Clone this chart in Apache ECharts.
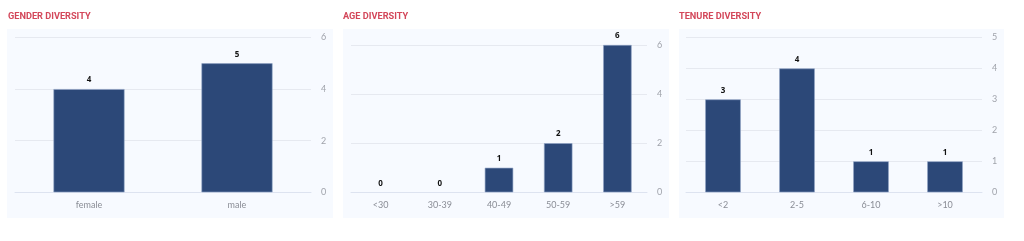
<!DOCTYPE html>
<html><head><meta charset="utf-8">
<script src="https://cdn.jsdelivr.net/npm/echarts@6/dist/echarts.min.js"></script>
<style>html,body{margin:0;padding:0;background:#fff}#c{width:1024px;height:241px}</style>
</head><body><div id="c"></div>
<script>
const titles = ['GENDER DIVERSITY', 'AGE DIVERSITY', 'TENURE DIVERSITY'];
const genderCats = ['female', 'male'];
const genderVals = [4, 5];
const ageCats = ['<30', '30-39', '40-49', '50-59', '>59'];
const ageVals = [0, 0, 1, 2, 6];
const tenureCats = ['<2', '2-5', '6-10', '>10'];
const tenureVals = [3, 4, 1, 1];
const yMax = [6, 6, 5];
const yInterval = [2, 2, 1];

const FONT = 'Lato, "Noto Sans", sans-serif';
const TFONT = 'Roboto, "Noto Sans", sans-serif';
const chart = echarts.init(document.getElementById('c'), null, {renderer: 'canvas'});
const cats = [genderCats, ageCats, tenureCats];
const vals = [genderVals, ageVals, tenureVals];
const grids = [
  {left: 15, width: 296, top: 37.5, bottom: 48.7},
  {left: 351, width: 296, top: 45, bottom: 48.7},
  {left: 686, width: 296, top: 37.5, bottom: 48.7}
];
const boxes = [[7, 333], [343, 669], [679, 1004]];
const option = {
  animation: false,
  backgroundColor: '#ffffff',
  graphic: boxes.map(b => ({type: 'rect', z: -10, shape: {x: b[0], y: 29, width: b[1] - b[0], height: 189}, style: {fill: '#f7faff'}})),
  title: titles.map((t, i) => ({text: t, left: [8, 343, 679][i], top: 12, padding: 0, textStyle: {color: '#d3475a', fontSize: 9.2, fontWeight: 'bold', fontFamily: TFONT}})),
  grid: grids.map(g => Object.assign({containLabel: false}, g)),
  xAxis: cats.map((c, i) => ({
    type: 'category', gridIndex: i, data: c,
    axisLine: {show: true, lineStyle: {color: '#dde3f0'}},
    axisTick: {show: false},
    axisLabel: {color: '#8a8d96', fontSize: 9, margin: 8, fontFamily: FONT}
  })),
  yAxis: vals.map((v, i) => ({
    type: 'value', gridIndex: i, position: 'right', min: 0, max: yMax[i], interval: yInterval[i],
    axisLine: {show: false}, axisTick: {show: false},
    splitLine: {lineStyle: {color: '#e6e9f0'}},
    axisLabel: {color: '#a0a3ab', fontSize: 9, margin: 10, fontFamily: FONT}
  })),
  series: vals.map((v, i) => ({
    type: 'bar', xAxisIndex: i, yAxisIndex: i, barWidth: '48%',
    data: v.map(x => ({value: x, itemStyle: {borderWidth: x === 0 ? 0 : 0.6}})),
    itemStyle: {color: '#2c4878', borderColor: '#8fa3c4'},
    label: {show: true, position: 'top', distance: 5, color: '#111', fontSize: 8, fontWeight: 'bold', fontFamily: '"Noto Sans", sans-serif'}
  }))
};
chart.setOption(option);
</script></body></html>
